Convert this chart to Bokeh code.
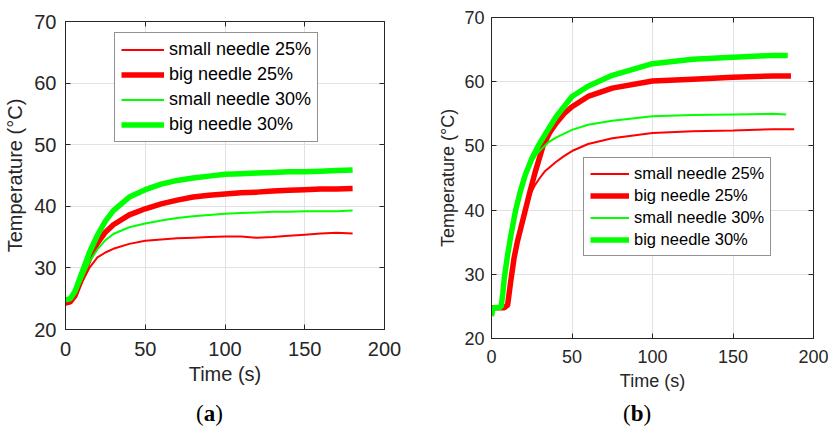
from bokeh.plotting import figure
from bokeh.models import LinearAxis, FixedTicker, Legend, LegendItem, Range1d, Div
from bokeh.layouts import row, column
from bokeh.embed import file_html
from bokeh.resources import INLINE

# ---------------- data: panel (a) ----------------
a_t = [0, 3, 6, 10, 15, 20, 25, 30, 40, 50, 60, 70, 80, 90, 100, 110, 120, 130, 140, 150, 160, 170, 180]
a_small25 = [24.2, 24.3, 25.3, 27.5, 30.0, 31.7, 32.5, 33.1, 33.9, 34.4, 34.6, 34.8, 34.9, 35.0, 35.1, 35.1, 34.9, 35.0, 35.2, 35.4, 35.6, 35.7, 35.6]
a_big25 = [24.3, 24.5, 25.5, 28.2, 31.5, 34.0, 35.8, 37.0, 38.6, 39.6, 40.4, 41.0, 41.5, 41.8, 42.0, 42.2, 42.3, 42.5, 42.6, 42.7, 42.8, 42.8, 42.9]
a_small30 = [24.6, 24.8, 25.8, 28.0, 31.0, 33.0, 34.5, 35.5, 36.6, 37.2, 37.7, 38.1, 38.4, 38.6, 38.8, 38.9, 39.0, 39.1, 39.1, 39.2, 39.2, 39.2, 39.3]
a_big30 = [24.8, 25.0, 26.2, 29.0, 32.5, 35.3, 37.6, 39.3, 41.5, 42.7, 43.6, 44.2, 44.6, 44.9, 45.2, 45.3, 45.4, 45.5, 45.6, 45.6, 45.7, 45.8, 45.9]

# ---------------- data: panel (b) ----------------
b_t_small25 = [0, 5, 8, 10, 12, 14, 16, 18, 21, 24, 27, 30, 33, 40, 45, 50, 60, 75, 100, 125, 150, 175, 188]
b_small25 = [24.8, 24.8, 24.8, 25.3, 29.3, 32.8, 35.3, 37.3, 40.0, 42.4, 43.9, 45.0, 46.0, 47.5, 48.4, 49.2, 50.3, 51.2, 52.0, 52.3, 52.4, 52.6, 52.6]
b_t_big25 = [0, 5, 8, 10, 12, 14, 16, 18, 21, 24, 27, 32, 36, 40, 45, 50, 60, 75, 100, 125, 150, 175, 186]
b_big25 = [24.8, 24.8, 24.8, 25.2, 29.0, 32.5, 35.0, 37.0, 40.0, 43.0, 45.8, 50.0, 52.0, 53.5, 55.0, 56.1, 57.7, 59.0, 60.1, 60.4, 60.7, 60.9, 60.9]
b_t_small30 = [0, 1, 3, 6, 7, 8, 10, 12, 15, 18, 21, 25, 28, 31, 35, 40, 50, 60, 75, 100, 125, 150, 175, 183]
b_small30 = [23.5, 24.8, 24.8, 24.9, 27.0, 29.5, 33.0, 36.0, 40.0, 43.0, 45.3, 47.5, 48.7, 49.5, 50.5, 51.3, 52.5, 53.3, 53.9, 54.6, 54.8, 54.9, 55.0, 54.9]
b_t_big30 = [0, 1, 3, 6, 7, 8, 10, 12, 15, 18, 21, 25, 29, 35, 40, 50, 60, 75, 100, 125, 150, 175, 184]
b_big30 = [23.5, 24.8, 24.8, 24.9, 27.0, 29.5, 33.0, 36.0, 40.0, 43.0, 45.5, 48.0, 50.0, 52.5, 54.5, 57.7, 59.3, 61.0, 62.8, 63.5, 63.8, 64.1, 64.1]

labels = ["small needle 25%", "big needle 25%", "small needle 30%", "big needle 30%"]
x_ticks = [0, 50, 100, 150, 200]
y_ticks = [20, 30, 40, 50, 60, 70]
x_label = "Time (s)"
y_label = "Temperature (°C)"

RED = "#ff0000"
GREEN = "#00ff00"
DARK = "#262626"
FONT = "Liberation Sans"


def panel(series, cfg):
    p = figure(width=409, height=cfg["h"], output_backend="svg", toolbar_location=None,
               x_range=Range1d(0, 200), y_range=Range1d(20, 70),
               min_border_left=cfg["bl"], min_border_right=cfg["br"],
               min_border_top=cfg["bt"], min_border_bottom=cfg["bb"])
    p.outline_line_color = DARK
    p.outline_line_width = 1
    p.background_fill_color = "white"
    p.border_fill_color = "white"
    p.xgrid.grid_line_color = "#e2e2e2"
    p.ygrid.grid_line_color = "#e2e2e2"
    p.xgrid.ticker = FixedTicker(ticks=x_ticks)
    p.ygrid.ticker = FixedTicker(ticks=y_ticks)

    for ax, ticks, lab, ls, als in ((p.xaxis[0], x_ticks, x_label, cfg["xls"], cfg["xals"]),
                                    (p.yaxis[0], y_ticks, y_label, cfg["yls"], cfg["yals"])):
        ax.ticker = FixedTicker(ticks=ticks)
        ax.axis_label = lab
        ax.axis_label_text_font = FONT
        ax.axis_label_text_font_style = "normal"
        ax.axis_label_text_font_size = cfg["fs"]
        ax.axis_label_text_color = DARK
        ax.major_label_text_font = FONT
        ax.major_label_text_font_size = cfg["fs"]
        ax.major_label_text_color = DARK
        ax.major_tick_in = 5
        ax.major_tick_out = 0
        ax.major_tick_line_color = DARK
        ax.minor_tick_line_color = None
        ax.axis_line_color = DARK
        ax.major_label_standoff = ls
        ax.axis_label_standoff = als

    for loc, ticks in (("above", x_ticks), ("right", y_ticks)):
        ax = LinearAxis(ticker=FixedTicker(ticks=ticks), major_label_text_color=None,
                        major_label_standoff=0, axis_line_color=None, major_tick_in=5,
                        major_tick_out=0, major_tick_line_color=DARK, minor_tick_line_color=None)
        p.add_layout(ax, loc)

    rends = []
    for (t, y), col, w in zip(series, [RED, RED, GREEN, GREEN], [2, 5.5, 2, 5.5]):
        rends.append(p.line(t, y, line_color=col, line_width=w))

    items = [LegendItem(label=l, renderers=[r]) for l, r in zip(labels, rends)]
    leg = Legend(items=items, location=cfg["legloc"], orientation="vertical",
                 label_text_font=FONT, label_text_font_size=cfg["lfs"], label_text_color="black",
                 glyph_width=cfg["gw"], glyph_height=cfg["lh"], label_height=cfg["lh"],
                 label_standoff=5, spacing=cfg["sp"], padding=6, margin=0,
                 border_line_color=DARK, border_line_width=1, background_fill_color="white",
                 background_fill_alpha=1.0)
    p.add_layout(leg)

    cap = Div(text=f'<div style="padding-left:{cfg["capx"]}px;font-family:\'Liberation Serif\';'
                   f'font-size:23px;line-height:{cfg["caph"]}px;color:black">(<b>{cfg["letter"]}</b>)</div>',
              width=409, height=cfg["caph"])
    return column(p, cap, spacing=0)


cfg_a = dict(h=398, bl=65, br=25, bt=21, bb=69, fs="20px", lfs="18px", xls=12, xals=4, yls=9, yals=5,
             legloc=(49, 187), gw=43, lh=19, sp=4, capx=191, caph=22, letter="a")
cfg_b = dict(h=398, bl=72, br=15, bt=17, bb=60, fs="18px", lfs="16.5px", xls=11, xals=5, yls=7, yals=3,
             legloc=(92, 82), gw=39, lh=17, sp=3, capx=199, caph=22, letter="b")

pa = panel([(a_t, a_small25), (a_t, a_big25), (a_t, a_small30), (a_t, a_big30)], cfg_a)
pb = panel([(b_t_small25, b_small25), (b_t_big25, b_big25), (b_t_small30, b_small30),
            (b_t_big30, b_big30)], cfg_b)

layout = row(pa, pb, spacing=0)
open("out.html", "w").write(file_html(layout, INLINE))
